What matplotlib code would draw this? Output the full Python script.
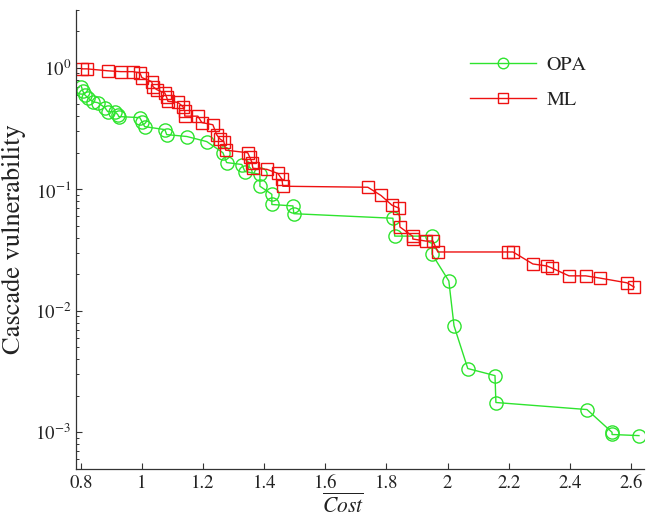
import matplotlib
matplotlib.use("Agg")
import matplotlib.pyplot as plt

plt.rcParams['font.family'] = ['STIXGeneral', 'DejaVu Serif']
plt.rcParams['mathtext.fontset'] = 'stix'

opa_x = [0.802, 0.807, 0.813, 0.823, 0.839, 0.856, 0.879, 0.888, 0.911, 0.921, 0.924,
         0.993, 1.0, 1.009, 1.075, 1.081, 1.147, 1.212, 1.265, 1.277, 1.327, 1.337,
         1.386, 1.386, 1.425, 1.425, 1.494, 1.497, 1.821, 1.827, 1.949, 1.949,
         2.004, 2.021, 2.066, 2.155, 2.158, 2.456, 2.538, 2.538, 2.626]
opa_y = [0.70, 0.64, 0.60, 0.567, 0.526, 0.516, 0.47, 0.436, 0.436, 0.412, 0.397,
         0.389, 0.361, 0.328, 0.31, 0.282, 0.272, 0.247, 0.20, 0.166, 0.160, 0.14,
         0.133, 0.106, 0.091, 0.075, 0.073, 0.063, 0.0578, 0.0412, 0.0412, 0.0293,
         0.0176, 0.00753, 0.00335, 0.00293, 0.00176, 0.00154, 0.00100, 0.00096, 0.00094]

ml_x = [0.803, 0.82, 0.888, 0.931, 0.970, 0.993, 1.0, 1.032, 1.036, 1.049, 1.075,
        1.081, 1.085, 1.117, 1.134, 1.140, 1.140, 1.183, 1.196, 1.232, 1.245, 1.255,
        1.268, 1.274, 1.346, 1.353, 1.36, 1.363, 1.409, 1.445, 1.458, 1.461, 1.739,
        1.782, 1.818, 1.841, 1.844, 1.886, 1.886, 1.929, 1.952, 1.968, 2.197, 2.214,
        2.279, 2.325, 2.341, 2.397, 2.452, 2.498, 2.587, 2.610]
ml_y = [0.98, 0.98, 0.945, 0.93, 0.93, 0.91, 0.83, 0.77, 0.70, 0.66, 0.62,
        0.57, 0.53, 0.52, 0.48, 0.44, 0.40, 0.40, 0.354, 0.34, 0.28, 0.26,
        0.247, 0.21, 0.20, 0.183, 0.166, 0.149, 0.146, 0.135, 0.121, 0.106, 0.104,
        0.089, 0.074, 0.070, 0.049, 0.041, 0.039, 0.0375, 0.0375, 0.0305, 0.0305, 0.0305,
        0.0243, 0.0234, 0.0225, 0.0194, 0.0194, 0.0186, 0.0170, 0.0157]

x_ticks = [0.8, 1.0, 1.2, 1.4, 1.6, 1.8, 2.0, 2.2, 2.4, 2.6]
x_tick_labels = ['0.8', '1', '1.2', '1.4', '1.6', '1.8', '2', '2.2', '2.4', '2.6']
y_ticks = [1e-3, 1e-2, 1e-1, 1e0]
y_tick_labels = [r'$10^{-3}$', r'$10^{-2}$', r'$10^{-1}$', r'$10^{0}$']

green = '#2ee42e'
red = '#ee1111'

fig = plt.figure(figsize=(6.6, 5.17), dpi=100)
ax = fig.add_axes([0.115, 0.093, 0.861, 0.888])

ax.plot(opa_x, opa_y, color=green, lw=1.0, marker='o', ms=9.5, mfc='none',
        mec=green, mew=1.0, label='OPA')
ax.plot(ml_x, ml_y, color=red, lw=1.0, marker='s', ms=8.5, mfc='none',
        mec=red, mew=1.0, label='ML')

ax.set_yscale('log')
ax.set_xlim(0.784, 2.643)
ax.set_ylim(5e-4, 3)
ax.set_xticks(x_ticks)
ax.set_xticklabels(x_tick_labels)
ax.set_yticks(y_ticks)
ax.set_yticklabels(y_tick_labels)
ax.xaxis.set_minor_locator(matplotlib.ticker.NullLocator())

for s in ['top', 'right']:
    ax.spines[s].set_visible(False)
for s in ['left', 'bottom']:
    ax.spines[s].set_color('#333333')
    ax.spines[s].set_linewidth(0.9)

ax.tick_params(which='major', direction='in', length=4, width=0.8, labelsize=13.5,
               color='#333333', labelcolor='#222222')
ax.tick_params(which='minor', direction='in', length=2.5, width=0.7, color='#333333')
ax.tick_params(axis='x', pad=4)

ax.set_ylabel('Cascade vulnerability', fontsize=19, color='#222222')
ax.yaxis.set_label_coords(-0.088, 0.5)
ax.set_xlabel(r'$\overline{Cost}$', fontsize=15.5, color='#222222', va='top')
ax.xaxis.set_label_coords(0.47, -0.054)

leg = ax.legend(loc='upper right', bbox_to_anchor=(0.93, 0.94), frameon=False,
                fontsize=14.5, handlelength=3.3, labelspacing=0.85, markerscale=0.8,
                handletextpad=0.5)
for t in leg.get_texts():
    t.set_color('#222222')

fig.savefig('out.png', dpi=100)
